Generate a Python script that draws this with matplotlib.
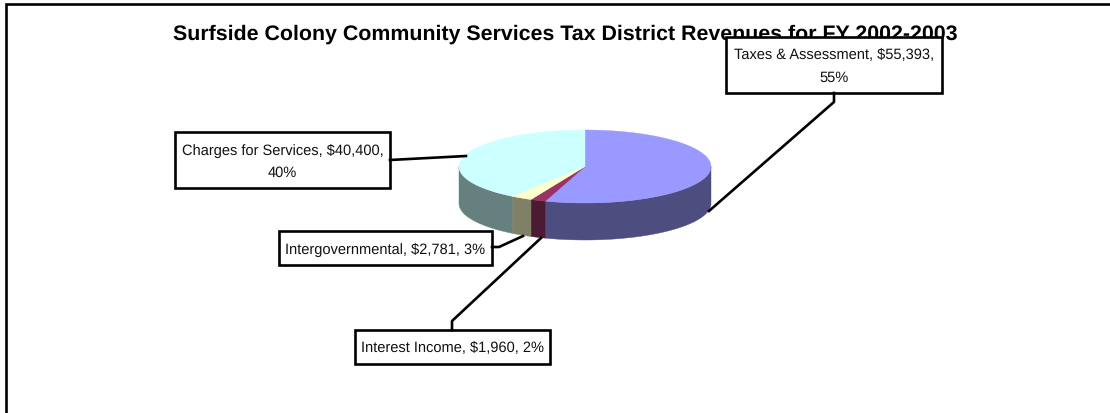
import numpy as np
import matplotlib
matplotlib.use("Agg")
import matplotlib.pyplot as plt
from matplotlib.patches import Polygon, Rectangle

plt.rcParams['font.family'] = ['Liberation Sans', 'DejaVu Sans']
plt.rcParams['text.hinting'] = 'none'

#%% data, clockwise from 12 o'clock
categories = ['Taxes & Assessment', 'Interest Income', 'Intergovernmental', 'Charges for Services']
revenues = [55393, 1960, 2781, 40400]
percents = [55, 2, 3, 40]
title = 'Surfside Colony Community Services Tax District Revenues for FY 2002-2003'

#%% styles and layout (pixels of the picture)
top_colors = ['#9999FF', '#993366', '#FFFFCC', '#CCFFFF']
side_colors = ['#4D4D80', '#4D1A33', '#808066', '#668080']
cx, cy, rx, ry, depth = 585, 167.5, 126, 36.5, 37
boxes = [(726, 38, 216, 56), (355, 331, 195, 34), (279, 232, 213, 34), (175, 133, 215, 56)]
label_breaks = [True, False, False, True]
leaders = [
    [(834, 94), (834, 103), (709, 212)],
    [(452, 331), (452, 322), (541, 239)],
    [(492, 248), (499, 248), (523, 237)],
    [(390, 161), (466, 157)],
]

fig = plt.figure(figsize=(11.10, 4.14), dpi=100)
ax = fig.add_axes([0, 0, 1, 1])
ax.set_xlim(0, 1110)
ax.set_ylim(414, 0)
ax.axis('off')

# chart border runs off the right and bottom edges
ax.plot([6, 6, 1110], [414, 4.5, 4.5], color='black', lw=1.9, solid_joinstyle='miter', zorder=1)

ax.text(565, 34, title, ha='center', va='center', fontsize=15.4, fontweight='bold', zorder=2)


def arc(t1, t2, dy=0):
    t = np.linspace(t1, t2, 80)
    return np.column_stack([cx + rx*np.sin(t), cy - ry*np.cos(t) + dy])


#%% pie
edges = np.cumsum([0] + revenues) / sum(revenues) * 2*np.pi
for i in range(len(revenues)):
    t1, t2 = edges[i], edges[i+1]
    # only the front half of the wall can be seen
    a, b = max(t1, np.pi/2), min(t2, 3*np.pi/2)
    if b > a:
        wall = np.vstack([arc(a, b), arc(a, b, depth)[::-1]])
        ax.add_patch(Polygon(wall, closed=True, fc=side_colors[i], ec=side_colors[i], lw=0.3, zorder=3))
    top = np.vstack([[cx, cy], arc(t1, t2)])
    ax.add_patch(Polygon(top, closed=True, fc=top_colors[i], ec=top_colors[i], lw=0.3, zorder=4))

#%% labels
for i in range(len(categories)):
    x, y, w, h = boxes[i]
    ax.add_patch(Rectangle((x, y), w, h, fc='white', ec='black', lw=1.9, zorder=5))
    sep = ',\n' if label_breaks[i] else ', '
    txt = f'{categories[i]}, ${revenues[i]:,}{sep}{percents[i]}%'
    ax.text(x + w/2, y + h/2 + 0.5, txt, ha='center', va='center', fontsize=10.5,
            linespacing=1.75, color='#111111', zorder=6)
    xs, ys = zip(*leaders[i])
    ax.plot(xs, ys, color='black', lw=1.9, zorder=5)

fig.savefig('out.png', dpi=100)
